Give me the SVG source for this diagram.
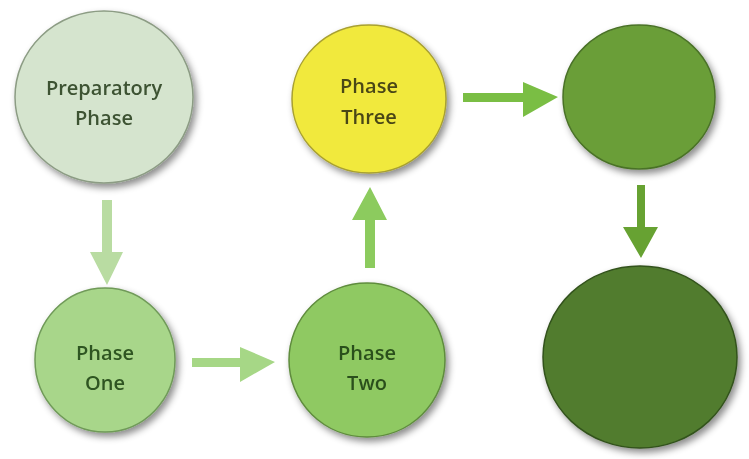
<svg xmlns="http://www.w3.org/2000/svg" width="749" height="459" viewBox="0 0 749 459">
<style>
.lbl{font-family:"Open Sans","DejaVu Sans","Liberation Sans",sans-serif;font-weight:600;font-size:20px;text-anchor:middle;dominant-baseline:central}
.node{filter:url(#sh)}
</style>
<defs>
<filter id="sh" x="-20%" y="-20%" width="150%" height="150%">
<feDropShadow dx="3" dy="4" stdDeviation="3.5" flood-color="#000" flood-opacity="0.45"/>
</filter>
</defs>
<rect width="749" height="459" fill="#ffffff"/>
<g id="connectors">
<polygon points="102,200 112,200 112,252 123,252 107,285 90,252 102,252" fill="#b9dca2"/>
<polygon points="192,358 240,358 240,347 275,362 240,382 240,367 192,367" fill="#a6d786"/>
<polygon points="365,268 365,220 352,220 370,187 387,220 375,220 375,268" fill="#8ccb5e"/>
<polygon points="463,93 523,93 523,82 558,97 523,117 523,102 463,102" fill="#7abe44"/>
<polygon points="637,185 645,185 645,227 658,227 641,258 623,227 637,227" fill="#67a232"/>
</g>
<g id="node-preparatory" class="node">
<ellipse cx="104" cy="97" rx="89" ry="86" fill="#d5e4ce" stroke="#8c9c84" stroke-width="1.5"/>
<text class="lbl" x="104" y="87" fill="#3d5233">Preparatory</text>
<text class="lbl" x="104" y="117" fill="#3d5233">Phase</text>
</g>
<g id="node-phase-one" class="node">
<ellipse cx="105" cy="360" rx="70" ry="72" fill="#a8d68a" stroke="#6f9a58" stroke-width="1.5"/>
<text class="lbl" x="105" y="352" fill="#2f5520">Phase</text>
<text class="lbl" x="105" y="382" fill="#2f5520">One</text>
</g>
<g id="node-phase-two" class="node">
<ellipse cx="367" cy="360" rx="78" ry="77" fill="#8fc962" stroke="#5f8c3e" stroke-width="1.5"/>
<text class="lbl" x="367" y="352" fill="#2a501a">Phase</text>
<text class="lbl" x="367" y="382" fill="#2a501a">Two</text>
</g>
<g id="node-phase-three" class="node">
<ellipse cx="369" cy="99" rx="77" ry="74" fill="#f1e93c" stroke="#a8a030" stroke-width="1.5"/>
<text class="lbl" x="369" y="85" fill="#4a4618">Phase</text>
<text class="lbl" x="369" y="116" fill="#4a4618">Three</text>
</g>
<g id="node-phase-four" class="node">
<ellipse cx="639" cy="97" rx="76" ry="72" fill="#6b9e39" stroke="#4a7228" stroke-width="1.5"/>
</g>
<g id="node-phase-five" class="node">
<ellipse cx="640" cy="357" rx="97" ry="91" fill="#517c2e" stroke="#33521c" stroke-width="1.5"/>
</g>
</svg>
